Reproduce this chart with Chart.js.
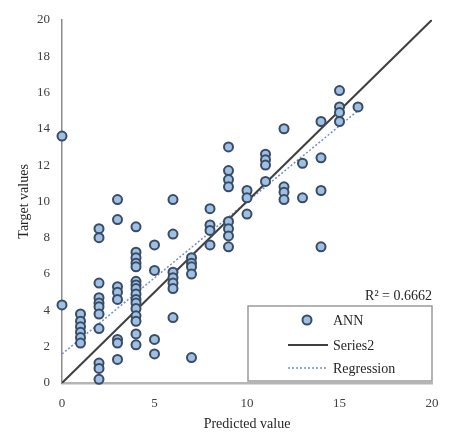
<!DOCTYPE html>
<html>
<head>
<meta charset="utf-8">
<script src="https://cdn.jsdelivr.net/npm/chart.js@4/dist/chart.umd.min.js"></script>
<style>
  body { margin: 0; background: #fff; }
  #wrap { width: 456px; height: 441px; }
</style>
</head>
<body>
<div id="wrap"><canvas id="chart" width="456" height="441"></canvas></div>
<script>
// values
const annX = [0, 0,
  1, 1, 1, 1, 1, 1,
  2, 2, 2, 2, 2, 2, 2, 2, 2, 2, 2,
  3, 3, 3, 3, 3, 3, 3, 3,
  4, 4, 4, 4, 4, 4, 4, 4, 4, 4, 4, 4, 4, 4, 4, 4,
  5, 5, 5, 5,
  6, 6, 6, 6, 6, 6, 6,
  7, 7, 7, 7, 7,
  8, 8, 8, 8,
  9, 9, 9, 9, 9, 9, 9, 9,
  10, 10, 10,
  11, 11, 11, 11,
  12, 12, 12, 12,
  13, 13,
  14, 14, 14, 14,
  15, 15, 15, 15,
  16];
const annY = [13.6, 4.3,
  3.8, 3.4, 3.1, 2.8, 2.5, 2.2,
  8.5, 8.0, 5.5, 4.7, 4.4, 4.2, 3.8, 3.0, 1.1, 0.8, 0.2,
  10.1, 9.0, 5.3, 5.0, 4.6, 2.4, 2.2, 1.3,
  8.6, 7.2, 6.9, 6.6, 6.4, 5.6, 5.4, 5.2, 4.9, 4.6, 4.4, 4.1, 3.7, 3.4, 2.7, 2.1,
  7.6, 6.2, 2.4, 1.6,
  10.1, 8.2, 6.1, 5.8, 5.5, 5.2, 3.6,
  6.9, 6.6, 6.4, 6.0, 1.4,
  9.6, 8.7, 8.4, 7.6,
  13.0, 11.7, 11.2, 10.8, 8.9, 8.5, 8.1, 7.5,
  10.6, 10.2, 9.3,
  12.6, 12.3, 12.0, 11.1,
  14.0, 10.8, 10.5, 10.1,
  12.1, 10.2,
  14.4, 12.4, 10.6, 7.5,
  16.1, 15.2, 14.9, 14.4,
  15.2];

const lineX = [0, 20];
const lineY = [0, 20];
const regX = [0, 16];
const regY = [1.6, 15.0];
const seriesNames = ['ANN', 'Series2', 'Regression'];
const r2Label = 'R² = 0.6662';

const serif = '"Liberation Serif", "DejaVu Serif", serif';

const toPoints = (xs, ys) => xs.map((x, i) => ({ x: x, y: ys[i] }));

// legend box + R² text, drawn inside the plot like the original
const boxLegend = {
    id: 'boxLegend',
    afterDraw(chart) {
        const ctx = chart.ctx;
        const area = chart.chartArea;
        const left = area.right - 184, top = area.bottom - 77;
        const right = area.right, bottom = area.bottom - 2;

        ctx.save();
        ctx.fillStyle = '#fff';
        ctx.fillRect(left, top, right - left, bottom - top);
        ctx.strokeStyle = '#9a9a9a';
        ctx.lineWidth = 1.5;
        ctx.strokeRect(left, top, right - left, bottom - top);

        ctx.font = '14px ' + serif;
        ctx.fillStyle = '#262626';
        ctx.textBaseline = 'middle';
        ctx.textAlign = 'right';
        ctx.fillText(r2Label, area.right, top - 10);

        ctx.textAlign = 'left';
        const ds = chart.data.datasets;
        const rows = [top + 14, top + 39, top + 62];
        const symL = left + 40, symR = left + 80, textX = left + 85;

        // ANN marker
        ctx.beginPath();
        ctx.arc((symL + symR) / 2 - 1, rows[0], ds[0].pointRadius, 0, Math.PI * 2);
        ctx.fillStyle = ds[0].backgroundColor;
        ctx.fill();
        ctx.lineWidth = ds[0].borderWidth;
        ctx.strokeStyle = ds[0].borderColor;
        ctx.stroke();

        // Series2 line
        ctx.beginPath();
        ctx.moveTo(symL, rows[1]);
        ctx.lineTo(symR, rows[1]);
        ctx.lineWidth = ds[1].borderWidth;
        ctx.strokeStyle = ds[1].borderColor;
        ctx.stroke();

        // Regression dotted line
        ctx.beginPath();
        ctx.setLineDash(ds[2].borderDash);
        ctx.moveTo(symL, rows[2]);
        ctx.lineTo(symR, rows[2]);
        ctx.lineWidth = ds[2].borderWidth;
        ctx.strokeStyle = ds[2].borderColor;
        ctx.stroke();
        ctx.setLineDash([]);

        ctx.fillStyle = '#262626';
        rows.forEach((y, i) => ctx.fillText(ds[i].label, textX, y + 1));
        ctx.restore();
    }
};

new Chart(document.getElementById('chart'), {
    type: 'scatter',
    data: {
        datasets: [
            {
                label: seriesNames[0],
                data: toPoints(annX, annY),
                clip: false,
                pointRadius: 4.5,
                pointHoverRadius: 4.5,
                backgroundColor: '#9dc0e4',
                borderColor: '#3a4b63',
                borderWidth: 2
            },
            {
                label: seriesNames[1],
                data: toPoints(lineX, lineY),
                showLine: true,
                pointRadius: 0,
                borderColor: '#404040',
                borderWidth: 2
            },
            {
                label: seriesNames[2],
                data: toPoints(regX, regY),
                showLine: true,
                pointRadius: 0,
                borderColor: '#7391c9',
                borderWidth: 1.5,
                borderDash: [2, 2]
            }
        ]
    },
    options: {
        responsive: false,
        animation: false,
        layout: { padding: { top: 13, right: 24, left: 0, bottom: 0 } },
        plugins: { legend: { display: false }, tooltip: { enabled: false } },
        scales: {
            x: {
                min: 0, max: 20,
                grid: { display: false, drawTicks: false },
                border: { color: '#b5b5b5', width: 2.5 },
                ticks: { stepSize: 5, padding: 13, color: '#404040', font: { family: serif, size: 13 } },
                title: { display: true, text: 'Predicted value', color: '#262626',
                         font: { family: serif, size: 14 }, padding: { bottom: 8, top: 0 } },
                afterFit(scale) { scale.height = 58; }
            },
            y: {
                min: 0, max: 20,
                grid: { display: false, drawTicks: false },
                border: { color: '#8c8c8c', width: 1.5 },
                ticks: { stepSize: 2, padding: 12, color: '#404040', font: { family: serif, size: 13 } },
                title: { display: true, text: 'Target values', color: '#262626',
                         font: { family: serif, size: 14 }, padding: { top: 16, bottom: 0 } },
                afterFit(scale) { scale.width = 62; }
            }
        }
    },
    plugins: [boxLegend]
});
</script>
</body>
</html>
